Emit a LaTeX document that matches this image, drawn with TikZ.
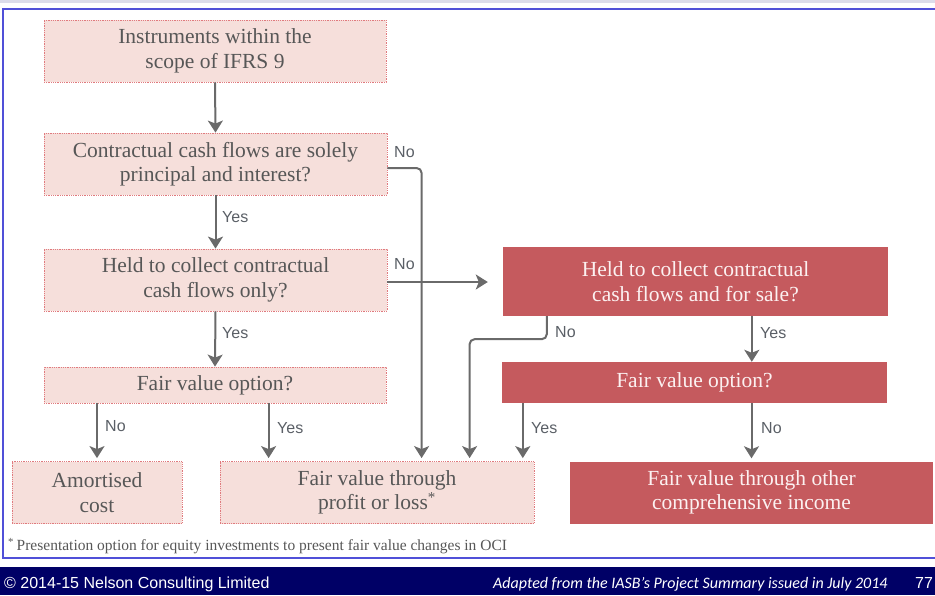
\documentclass[tikz,border=0pt]{standalone}
\usepackage{fontspec}
\setmainfont{Liberation Serif}
\newfontfamily\lsans{Liberation Sans}
\newfontfamily\carl{Carlito}
\usetikzlibrary{arrows.meta}
\definecolor{pinkfill}{HTML}{F6DFDB}
\definecolor{pinkedge}{HTML}{E07A7E}
\definecolor{darkred}{HTML}{C55A5E}
\definecolor{txtgray}{HTML}{575757}
\definecolor{labgray}{HTML}{5A5F66}
\definecolor{linegray}{HTML}{6A6A6A}
\definecolor{framecol}{HTML}{5050D8}
\definecolor{navy}{HTML}{000066}
\definecolor{bandcol}{HTML}{DCDCEA}
\definecolor{softwhite}{HTML}{FCF1F1}
\tikzset{
  boxbase/.style={rectangle, align=center, inner sep=0pt, font=\fontsize{21.5}{24.5}\selectfont},
  lightbox/.style={boxbase, draw=pinkedge, densely dotted, line width=0.8pt, fill=pinkfill, text=txtgray},
  darkbox/.style={boxbase, fill=darkred, text=softwhite},
  conn/.style={draw=linegray, line width=2pt, rounded corners=5pt, -{Stealth[length=12pt,width=15pt,inset=3pt]}},
  lab/.style={font=\lsans\fontsize{16}{18}\selectfont, text=labgray, anchor=west, inner sep=0pt},
}
\begin{document}
\begin{tikzpicture}[x=1pt,y=-1pt]
\useasboundingbox (0,0) rectangle (935,595);
% background pieces
\fill[bandcol] (0,0) rectangle (935,2.5);
\draw[framecol, line width=2pt] (940,9) -- (3,9) -- (3,558) -- (940,558);
\fill[navy] (0,567) rectangle (935,595);

% boxes
\node[lightbox, minimum width=342pt, minimum height=62pt] (b1) at (215,51) {Instruments within the\\scope of IFRS 9};
\node[lightbox, minimum width=343pt, minimum height=62pt] (b2) at (215.5,164) {Contractual cash flows are solely\\principal and interest?};
\node[lightbox, minimum width=343pt, minimum height=62pt] (b3) at (215.5,280) {Held to collect contractual\\cash flows only?};
\node[lightbox, minimum width=342pt, minimum height=36pt] (b4) at (215,385) {Fair value option?};
\node[lightbox, minimum width=170pt, minimum height=62pt] (b5) at (97,492.5) {Amortised\\cost};
\node[lightbox, minimum width=314pt, minimum height=62pt] (b6) at (377,492.5) {Fair value through\\profit or loss\textsuperscript{*}};
\node[darkbox, minimum width=385pt, minimum height=69pt] (b7) at (695.5,281.5) {Held to collect contractual\\cash flows and for sale?};
\node[darkbox, minimum width=385pt, minimum height=41pt] (b8) at (694.5,382.5) {Fair value option?};
\node[darkbox, minimum width=363pt, minimum height=62pt] (b9) at (751.5,492.5) {Fair value through other\\comprehensive income};

% helper coordinates
\coordinate (t1) at ([xshift=49pt]b6.north west);
\coordinate (t2) at ([xshift=202pt]b6.north west);
\coordinate (t3) at ([xshift=250pt]b6.north west);
\coordinate (s7) at ([xshift=44pt]b7.south west);
\coordinate (s8) at ([xshift=21pt]b8.south west);
\coordinate (s78) at ([xshift=249pt]b7.south west);
\coordinate (e37) at ([xshift=-15pt]b7.west |- b3.east);

% connectors
\draw[conn] (b1.south) -- (b2.north);
\draw[conn] (b2.south) -- (b3.north);
\draw[conn] (b3.south) -- (b4.north);
\draw[conn, shorten >=3pt] (b4.south -| b5.north) -- (b5.north);
\draw[conn, shorten >=3pt] (b4.south -| t1) -- (t1);
\draw[conn, shorten >=3pt] ([yshift=-4pt]b2.east) -| (t2);
\draw[conn] ([yshift=-2pt]b3.east) -- ([yshift=-2pt]e37);
\draw[conn, shorten >=3pt] (s7) -- ++(0,23) -| (t3);
\draw[conn] (s78) -- (s78 |- b8.north);
\draw[conn, shorten >=3pt] (s8) -- (s8 |- b6.north);
\draw[conn, shorten >=3pt] (b8.south -| b9.north) -- (b9.north);

% labels
\node[lab] (l1) at (394,152) {No};
\node[lab] (l2) at (222,217) {Yes};
\node[lab] (l3) at (394,264) {No};
\node[lab] (l4) at (222,333) {Yes};
\node[lab] (l5) at (105,426) {No};
\node[lab] (l6) at (277,428) {Yes};
\node[lab] (l7) at (555,332) {No};
\node[lab] (l8) at (760,333) {Yes};
\node[lab] (l9) at (531,428) {Yes};
\node[lab] (l10) at (761,428) {No};

% footnote
\node[anchor=west, inner sep=0pt, text=txtgray, font=\fontsize{15.5}{17}\selectfont] (fn) at (8,546) {\textsuperscript{*}\,Presentation option for equity investments to present fair value changes in OCI};

% footer
\node[anchor=base west, inner sep=0pt, text=white, font=\lsans\fontsize{16}{18}\selectfont] (f1) at (4,588) {\textcopyright{} 2014-15 Nelson Consulting Limited};
\node[anchor=base west, inner sep=0pt, text=white, font=\carl\itshape\fontsize{16}{18}\selectfont] (f2) at (493,588) {Adapted from the IASB’s Project Summary issued in July 2014};
\node[anchor=base west, inner sep=0pt, text=white, font=\lsans\fontsize{16}{18}\selectfont] (f3) at (915,588) {77};
\end{tikzpicture}
\end{document}
